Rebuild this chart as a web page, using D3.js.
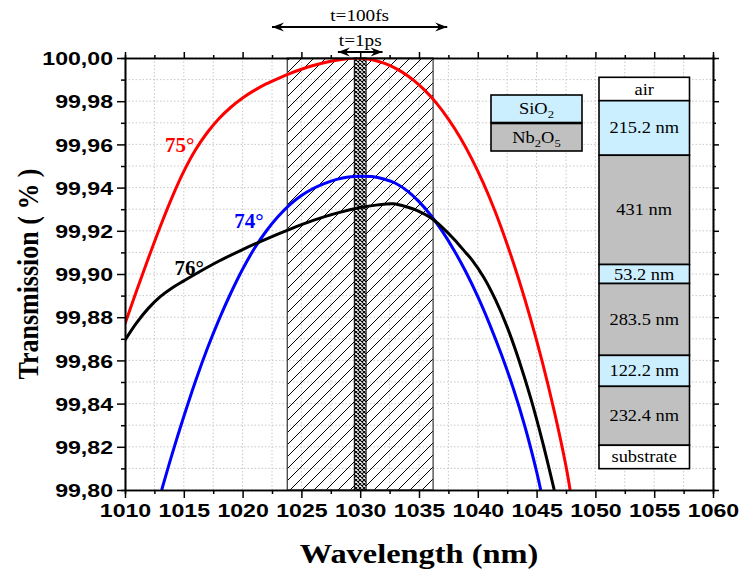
<!DOCTYPE html>
<html><head><meta charset="utf-8">
<script src="https://cdn.jsdelivr.net/npm/d3@7"></script>
<style>body{margin:0;background:#fff}</style>
</head><body><svg id="c" width="739" height="577"></svg>
<script>
// ---------------- data ----------------
const xTicks = [1010,1015,1020,1025,1030,1035,1040,1045,1050,1055,1060];
const yTicks = [99.80,99.82,99.84,99.86,99.88,99.90,99.92,99.94,99.96,99.98,100.00];

const curve75 = [[1010,99.877],[1011,99.8925],[1012,99.9075],[1013,99.922],[1014,99.9355],[1015,99.9475],[1016,99.9575],[1017,99.9655],[1018,99.972],[1019,99.9772],[1020,99.9815],[1021,99.985],[1022,99.988],[1023,99.9905],[1024,99.9928],[1025,99.9948],[1026,99.9965],[1027,99.9979],[1028,99.999],[1029,99.9998],[1029.6,100.0],[1030.5,99.9996],[1031.5,99.9985],[1032.5,99.9966],[1033.5,99.9937],[1034.5,99.9899],[1035.5,99.985],[1036.5,99.979],[1037.5,99.9717],[1038.5,99.9632],[1039.5,99.9532],[1040.5,99.9417],[1041.5,99.9286],[1042.5,99.9137],[1043.5,99.8972],[1044.5,99.879],[1045.5,99.859],[1046.5,99.8365],[1047.5,99.811],[1047.85,99.80]];
const curve74 = [[1013.12,99.80],[1014,99.8165],[1015,99.834],[1016,99.8505],[1017,99.8655],[1018,99.879],[1019,99.8912],[1020,99.9022],[1021,99.9118],[1022,99.9198],[1023,99.9265],[1024,99.932],[1025,99.9363],[1026,99.9396],[1027,99.942],[1028,99.9438],[1029,99.9449],[1030,99.9453],[1031,99.9451],[1032,99.944],[1033,99.942],[1034,99.9385],[1035,99.9335],[1036,99.9272],[1037,99.9196],[1038,99.9108],[1039,99.9008],[1040,99.8895],[1041,99.8768],[1042,99.8628],[1043,99.8473],[1044,99.8295],[1045,99.8085],[1045.35,99.80]];
const curve76 = [[1010,99.8694],[1011,99.8775],[1012,99.8842],[1013,99.8895],[1014,99.8935],[1015,99.8968],[1016,99.9],[1018,99.906],[1020,99.9113],[1022,99.9162],[1024,99.9207],[1026,99.9248],[1028,99.9282],[1030,99.9308],[1031.5,99.932],[1032.8,99.9325],[1034,99.931],[1035,99.929],[1036,99.926],[1037,99.9215],[1038,99.916],[1039,99.9097],[1039.5,99.9065],[1040.5,99.8985],[1041.5,99.8881],[1042.5,99.8754],[1043.5,99.8601],[1044.5,99.8425],[1045.5,99.8224],[1046.5,99.80]];
const seriesNames = ["75°","74°","76°"];
const seriesColors = ["#ff0000","#0000ff","#000000"];
const labelPos = [[1013.4,99.9565],[1019.3,99.9215],[1014.2,99.8995]];

const bandWide = [1023.8,1036.2];   // t=100fs bandwidth
const bandNarrow = [1029.5,1030.5]; // t=1ps bandwidth
const arrowWide = [1022.5,1037.4];
const arrowNarrow = [1028.1,1031.9];

const layerNames = ["air","215.2 nm","431 nm","53.2 nm","283.5 nm","122.2 nm","232.4 nm","substrate"];
const layerThick = [null,215.2,431,53.2,283.5,122.2,232.4,null];
const layerMat = ["air","SiO2","Nb2O5","SiO2","Nb2O5","SiO2","Nb2O5","air"];

// ---------------- setup ----------------
const svg = d3.select("#c");
const L=125,R=713,T=58,B=490;
const x = d3.scaleLinear().domain([1010,1060]).range([L,R]);
const y = d3.scaleLinear().domain([99.80,100.00]).range([B,T]);
const fill = {air:"#ffffff",SiO2:"#ccefff",Nb2O5:"#c0c0c0"};
const SANS="'Liberation Sans',Arial,sans-serif", SERIF="'Liberation Serif','Times New Roman',serif";

function txt(g,px,py,s,o){
  const sx=o.sx||1.2;
  const t=g.append("text").attr("transform",`translate(${px},${py}) scale(${sx},1)`)
   .attr("font-family",o.ff||SERIF).attr("font-size",o.fs||16).attr("font-weight",o.fw||"normal")
   .attr("text-anchor",o.anchor||"middle").attr("fill",o.fill||"#000");
  if(o.rot) t.attr("transform",`translate(${px},${py}) rotate(${o.rot}) scale(1,${sx})`);
  t.text(s); return t;
}

const defs = svg.append("defs");
defs.append("clipPath").attr("id","clip").append("rect").attr("x",L).attr("y",T).attr("width",R-L).attr("height",B-T);
const ph = defs.append("pattern").attr("id","hatch").attr("patternUnits","userSpaceOnUse").attr("width",12).attr("height",12);
ph.append("path").attr("d","M-3,3 L3,-3 M0,12 L12,0 M9,15 L15,9").attr("stroke","#000").attr("stroke-width",1);
const pc = defs.append("pattern").attr("id","cross").attr("patternUnits","userSpaceOnUse").attr("width",4).attr("height",4);
pc.append("rect").attr("width",4).attr("height",4).attr("fill","#fff");
pc.append("path").attr("d","M0,0 L4,4 M4,0 L0,4").attr("stroke","#000").attr("stroke-width",1.1);
defs.append("marker").attr("id","ah").attr("viewBox","-13 -6 14 12").attr("refX",0).attr("refY",0)
  .attr("markerWidth",14).attr("markerHeight",12).attr("markerUnits","userSpaceOnUse").attr("orient","auto-start-reverse")
  .append("path").attr("d","M0,0 L-12,-4.5 L-8,0 L-12,4.5 Z").attr("fill","#000");

// grid
const gx = d3.range(1010,1060.001,2.5), gy = d3.range(0,21).map(i=>99.80+i*0.01);
const grid = svg.append("g").attr("stroke","#c8c8c8").attr("stroke-width",1).attr("stroke-dasharray","1.5,2");
grid.selectAll("line.v").data(gx).join("line").attr("x1",d=>x(d)).attr("x2",d=>x(d)).attr("y1",T).attr("y2",B);
grid.selectAll("line.h").data(gy).join("line").attr("y1",d=>y(d)).attr("y2",d=>y(d)).attr("x1",L).attr("x2",R);

// bands
svg.append("rect").attr("x",x(bandWide[0])).attr("y",T).attr("width",x(bandWide[1])-x(bandWide[0])).attr("height",B-T)
  .attr("fill","url(#hatch)").attr("stroke","#444").attr("stroke-width",1.3);
svg.append("rect").attr("x",x(bandNarrow[0])).attr("y",T).attr("width",x(bandNarrow[1])-x(bandNarrow[0])).attr("height",B-T)
  .attr("fill","url(#cross)").attr("stroke","#000").attr("stroke-width",1);

// curves
const line = d3.line().x(d=>x(d[0])).y(d=>y(d[1])).curve(d3.curveCatmullRom.alpha(0.5));
const cg = svg.append("g").attr("clip-path","url(#clip)");
[curve75,curve74,curve76].forEach((c,i)=>{
  cg.append("path").attr("d",line(c)).attr("fill","none").attr("stroke",seriesColors[i]).attr("stroke-width",3);
});
seriesNames.forEach((n,i)=>{
  txt(svg,x(labelPos[i][0]),y(labelPos[i][1]),n,{fs:20,fw:"bold",anchor:"start",fill:seriesColors[i],sx:1.05});
});

// axes
function styleAxis(g){ g.select(".domain").attr("stroke","#000").attr("stroke-width",1.6);
  g.selectAll(".tick line").attr("stroke","#000").attr("stroke-width",1.5); }
const minorX = d3.range(1012.5,1060,5), minorY = d3.range(0,10).map(i=>99.81+i*0.02);
const fmtY = d=>d3.format(".2f")(d).replace(".",",");

const ax = svg.append("g").attr("transform",`translate(0,${B})`).call(d3.axisBottom(x).tickValues(xTicks).tickSize(8).tickSizeOuter(0).tickFormat(d3.format("d")));
styleAxis(ax);
ax.selectAll(".tick text").attr("font-family",SANS).attr("font-weight","bold").attr("font-size",18.5).attr("fill","#000")
  .attr("y",0).attr("dy",0).attr("transform","translate(0,27) scale(1.25,1)");
const axm = svg.append("g").attr("transform",`translate(0,${B})`).call(d3.axisBottom(x).tickValues(minorX).tickSize(4).tickFormat(""));
styleAxis(axm);

const ay = svg.append("g").attr("transform",`translate(${L},0)`).call(d3.axisLeft(y).tickValues(yTicks).tickSize(8).tickSizeOuter(0).tickFormat(fmtY));
styleAxis(ay);
ay.selectAll(".tick text").attr("font-family",SANS).attr("font-weight","bold").attr("font-size",18.5).attr("fill","#000")
  .attr("x",0).attr("dy","0.36em").attr("transform","translate(-12,0) scale(1.25,1)");
const aym = svg.append("g").attr("transform",`translate(${L},0)`).call(d3.axisLeft(y).tickValues(minorY).tickSize(4).tickFormat(""));
styleAxis(aym);

const at = svg.append("g").attr("transform",`translate(0,${T})`).call(d3.axisTop(x).tickValues(xTicks).tickSize(6).tickSizeOuter(0).tickFormat(""));
styleAxis(at);
const atm = svg.append("g").attr("transform",`translate(0,${T})`).call(d3.axisTop(x).tickValues(minorX).tickSize(3).tickFormat(""));
styleAxis(atm);
const ar = svg.append("g").attr("transform",`translate(${R},0)`).call(d3.axisRight(y).tickValues(yTicks).tickSize(6).tickSizeOuter(0).tickFormat(""));
styleAxis(ar);
const arm = svg.append("g").attr("transform",`translate(${R},0)`).call(d3.axisRight(y).tickValues(minorY).tickSize(3).tickFormat(""));
styleAxis(arm);

// axis titles
txt(svg,(L+R)/2,563,"Wavelength (nm)",{fs:27,fw:"bold",sx:1.2});
txt(svg,38,(T+B)/2,"Transmission ( % )",{fs:26,fw:"bold",sx:1.15,rot:-90});

// arrows
[[arrowWide,27,"t=100fs",16],[arrowNarrow,52,"t=1ps",41]].forEach(([a,yy,lab,ly])=>{
  svg.append("line").attr("x1",x(a[0])).attr("x2",x(a[1])).attr("y1",yy).attr("y2",yy)
    .attr("stroke","#000").attr("stroke-width",1.8).attr("marker-start","url(#ah)").attr("marker-end","url(#ah)");
  txt(svg,(x(a[0])+x(a[1]))/2,ly+5,lab,{fs:16,sx:1.2});
});

// material legend
const lg = svg.append("g");
[["SiO","2","",""],["Nb","2","O","5"]].forEach((parts,i)=>{
  const yy = 95 + i*28.5;
  lg.append("rect").attr("x",491).attr("y",yy).attr("width",91).attr("height",27.5)
    .attr("fill",i==0?fill.SiO2:fill.Nb2O5).attr("stroke","#000").attr("stroke-width",1.6);
  const t = lg.append("text").attr("transform",`translate(${536.5},${yy+19}) scale(1.15,1)`).attr("text-anchor","middle")
    .attr("font-family",SERIF).attr("font-size",16);
  t.append("tspan").text(parts[0]);
  t.append("tspan").attr("font-size",11).attr("dy",4).text(parts[1]);
  if(parts[2]){ t.append("tspan").attr("dy",-4).text(parts[2]); t.append("tspan").attr("font-size",11).attr("dy",4).text(parts[3]); }
});

// layer stack
const hScale = d3.scaleLinear().domain([0,100]).range([0,25.35]);
let yy = 77.3;
const sg = svg.append("g");
layerNames.forEach((n,i)=>{
  const h = layerThick[i]==null ? 23.4 : Math.max(19, hScale(layerThick[i]));
  sg.append("rect").attr("x",599).attr("y",yy).attr("width",90.5).attr("height",h)
    .attr("fill",fill[layerMat[i]]).attr("stroke","#000").attr("stroke-width",1.6);
  txt(sg,644.2,yy+h/2+5.5,n,{fs:16,sx:1.15});
  yy += h;
});
</script></body></html>
